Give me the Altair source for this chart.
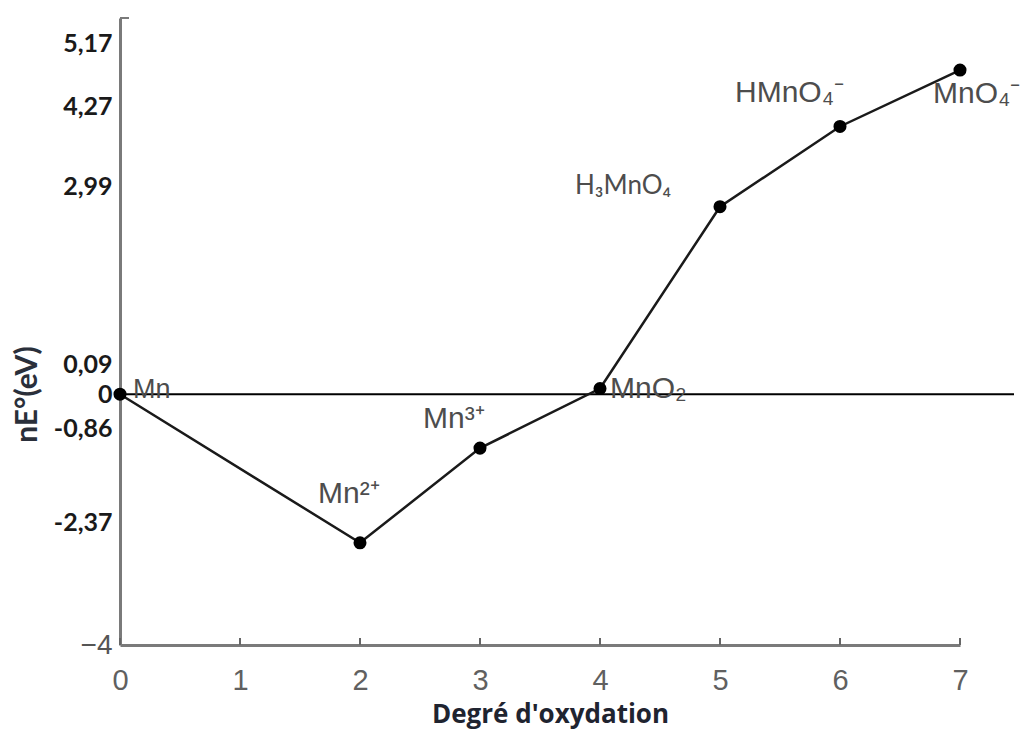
import altair as alt
import pandas as pd

# ---- data ----
degrees = [0, 2, 3, 4, 5, 6, 7]
energies = [0.0, -2.37, -0.86, 0.09, 2.99, 4.27, 5.17]
species = ["Mn", "Mn²⁺", "Mn³⁺", "MnO₂", "H₃MnO₄", "HMnO₄⁻", "MnO₄⁻"]
x_ticks = [0, 1, 2, 3, 4, 5, 6, 7]
y_ticks = [5.17, 4.27, 2.99, 0.09, 0, -0.86, -2.37, -4]
y_tick_labels = ["5,17", "4,27", "2,99", "0,09", "0", "-0,86", "-2,37", "−4"]
zero_line = [0]

W, H = 840, 627

df = pd.DataFrame({"deg": degrees, "E": energies, "species": species})

xs = alt.Scale(domain=[0, 7], nice=False, zero=False)
ys = alt.Scale(domain=[-4, 6], nice=False, zero=False)

label_expr = ""
for v, l in zip(y_ticks, y_tick_labels):
    label_expr += f"datum.value == {v} ? '{l}' : "
label_expr += "''"

x_axis = alt.Axis(
    values=x_ticks, format="d", ticks=False, grid=False,
    domainColor="#7a7a7a", domainWidth=3,
    labelFont="Liberation Sans", labelFontSize=29, labelColor="#606060",
    labelPadding=21, labelFlush=False, labelOverlap=False,
    title="Degré d'oxydation", titleFont="Open Sans", titleFontWeight="bold",
    titleFontSize=26, titleColor="#1f2430",
    titleX=430, titleY=69, titleBaseline="middle", titleAlign="center",
)

y_axis = alt.Axis(
    values=y_ticks, labelExpr=label_expr, ticks=False, grid=False,
    domainColor="#7a7a7a", domainWidth=3,
    labelFont={"condition": {"test": "datum.value == -4", "value": "Liberation Sans"}, "value": "Lato"},
    labelFontWeight={"condition": {"test": "datum.value == -4", "value": "normal"}, "value": "bold"},
    labelColor={"condition": {"test": "datum.value == -4", "value": "#555555"}, "value": "#1a1a1a"},
    labelFontSize={"condition": {"test": "datum.value == -4", "value": 28}, "value": 25},
    labelOffset={"condition": [
        {"test": "datum.value == 0.09", "value": -24},
        {"test": "datum.value == 5.17", "value": -27},
        {"test": "datum.value != 0 && datum.value != -4", "value": -20},
    ], "value": 0},
    labelPadding=8, labelOverlap=False, labelFlush=False,
    title="nE°(eV)", titleFont="Lato", titleFontWeight="bold", titleFontSize=30,
    titleColor="#2a2f3a", titleX=-93, titleY=376, titleAngle=270,
    titleBaseline="middle", titleAlign="center",
)

X = alt.X("deg:Q", scale=xs, axis=x_axis)
Y = alt.Y("E:Q", scale=ys, axis=y_axis)

zero = alt.Chart(pd.DataFrame({"E": zero_line})).mark_rule(
    color="black", strokeWidth=2
).encode(y=Y, x=alt.value(0), x2=alt.value(894))

line = alt.Chart(df).mark_line(color="#1a1a1a", strokeWidth=2.5).encode(x=X, y=Y)

points = alt.Chart(df).mark_circle(size=170, color="black", opacity=1).encode(x=X, y=Y)

xticks = alt.Chart(pd.DataFrame({"deg": x_ticks})).mark_rule(
    color="#666666", strokeWidth=2
).encode(x=X, y=alt.value(H), y2=alt.value(H - 7))

top_stub = alt.Chart(pd.DataFrame({"t": [0]})).mark_rule(
    color="#7a7a7a", strokeWidth=2
).encode(x=alt.value(0), x2=alt.value(9), y=alt.value(0))

# label placement (style only)
label_style = {
    "Mn": dict(align="left", dx=13, dy=-4, font="Liberation Sans", fontSize=27),
    "Mn²⁺": dict(align="left", dx=-42, dy=-49, font="Liberation Sans", fontSize=30),
    "Mn³⁺": dict(align="left", dx=-57, dy=-29, font="Liberation Sans", fontSize=30),
    "MnO₂": dict(align="left", dx=10, dy=0, font="Liberation Sans", fontSize=30),
    "H₃MnO₄": dict(align="left", dx=-145, dy=-21, font="Lato", fontSize=26),
    "HMnO₄⁻": dict(align="left", dx=-105, dy=-33, font="Liberation Sans", fontSize=30),
    "MnO₄⁻": dict(align="left", dx=-27, dy=24, font="Liberation Sans", fontSize=30),
}

labels = []
for name in species:
    st = label_style[name]
    labels.append(
        alt.Chart(df).transform_filter(alt.datum.species == name).mark_text(
            baseline="middle", color="#4d4d4d", **st
        ).encode(x=X, y=Y, text="species:N")
    )

chart = alt.layer(zero, line, points, xticks, top_stub, *labels).properties(
    width=W, height=H,
    padding={"left": 112, "top": 10, "right": 62, "bottom": 85},
    autosize=alt.AutoSizeParams(type="none"),
    background="white",
).configure_view(stroke=None)

chart.save("out.html", embed_options={"renderer": "svg", "actions": False})
